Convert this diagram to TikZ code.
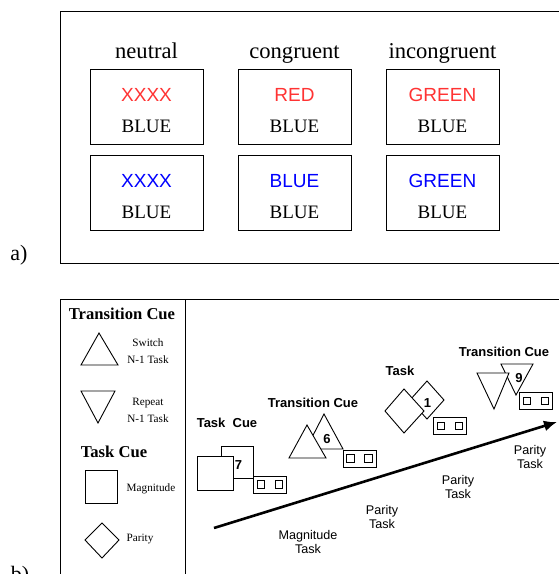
\documentclass[tikz,border=0pt]{standalone}
\usepackage{fontspec}
\setmainfont{Liberation Serif}
\setsansfont{Liberation Sans}
\usetikzlibrary{positioning}
\usetikzlibrary{arrows.meta}
\definecolor{stroopred}{RGB}{255,51,51}
\definecolor{stroopblue}{RGB}{0,0,255}

\begin{document}
\begin{tikzpicture}[x=0.5pt, y=-0.5pt, line width=0.5pt, node distance=5pt]
    \tikzstyle{stim}=[draw=black, rectangle, minimum width=56.5pt, minimum height=37.5pt, inner sep=0pt, align=center, font=\fontsize{9.5}{11}\selectfont]
    \tikzstyle{head}=[inner sep=0pt, text height=8pt, text depth=2.5pt, font=\fontsize{11.3}{13}\selectfont]
    \tikzstyle{panel}=[inner sep=0pt, font=\fontsize{11}{13}\selectfont]
    \tikzstyle{legtitle}=[inner sep=0pt, font=\bfseries\fontsize{8.3}{10}\selectfont]
    \tikzstyle{legtext}=[inner sep=0pt, align=center, font=\fontsize{5.6}{8.5}\selectfont]
    \tikzstyle{cue}=[draw=black, fill=white, line width=0.45pt]
    \tikzstyle{cuetitle}=[inner sep=0pt, font=\sffamily\bfseries\fontsize{6.5}{8}\selectfont]
    \tikzstyle{cuenum}=[inner sep=0pt, font=\sffamily\bfseries\fontsize{6.5}{8}\selectfont]
    \tikzstyle{tasktext}=[inner sep=0pt, align=center, font=\sffamily\fontsize{6.3}{7}\selectfont]
    \tikzstyle{keypad}=[draw=black, rectangle, line width=0.45pt, minimum width=16.5pt, minimum height=8.5pt, inner sep=0pt]
    \tikzstyle{keysq}=[draw=black, rectangle, line width=0.45pt, minimum size=3.6pt, inner sep=0pt]

    \useasboundingbox (0,0) rectangle (558,574);

    % a) colour-word stimuli
    \draw (560,11) -- (60,11) -- (60,263) -- (560,263);
    \node[panel] (lbla) at (19,255) {a)};

    \node[stim] (neutA) at (146.5,107) {\rule{0pt}{9.8pt}{\sffamily\color{stroopred}XXXX}\\[4.6pt]BLUE};
    \node[stim, right=17pt of neutA] (congA) {\rule{0pt}{9.8pt}{\sffamily\color{stroopred}RED}\\[4.6pt]BLUE};
    \node[stim, right=17pt of congA] (incoA) {\rule{0pt}{9.8pt}{\sffamily\color{stroopred}GREEN}\\[4.6pt]BLUE};
    \node[stim, below=5pt of neutA] (neutB) {\rule{0pt}{9.8pt}{\sffamily\color{stroopblue}XXXX}\\[4.6pt]BLUE};
    \node[stim, below=5pt of congA] (congB) {\rule{0pt}{9.8pt}{\sffamily\color{stroopblue}BLUE}\\[4.6pt]BLUE};
    \node[stim, below=5pt of incoA] (incoB) {\rule{0pt}{9.8pt}{\sffamily\color{stroopblue}GREEN}\\[4.6pt]BLUE};

    \node[head, above=2.5pt of neutA] (neutH) {neutral};
    \node[head, above=2.5pt of congA] (congH) {congruent};
    \node[head, above=2.5pt of incoA] (incoH) {incongruent};

    % b) cue legend
    \draw (560,299) -- (60,299) -- (60,580);
    \draw (185,299) -- (185,580);
    \node[panel] (lblb) at (20,576) {b)};

    \node[legtitle] (legtrans) at (122,314) {Transition Cue};
    \draw[cue] (99,333) -- (118,365) -- (81,365) -- cycle;
    \node[legtext] (legswitch) at (148,351.5) {Switch\\N-1 Task};
    \draw[cue] (81,391) -- (115,391) -- (98,423) -- cycle;
    \node[legtext] (legrepeat) at (148,410.5) {Repeat\\N-1 Task};

    \node[legtitle] (legtask) at (114,452) {Task Cue};
    \draw[cue] (85,470) rectangle (117,503);
    \node[legtext] (legmag) at (151,489) {Magnitude};
    \draw[cue] (102,523) -- (119,540) -- (102,558) -- (85,540) -- cycle;
    \node[legtext] (legpar) at (140,539) {Parity};

    % b) trial sequence
    \draw[cue] (221,446) rectangle (253,478);
    \draw[cue] (197,456) rectangle (233,490);
    \node[cuenum] (num7) at (238.5,465) {7};
    \node[cuetitle] (title1) at (227,423) {Task\ \ Cue};

    \draw[cue] (324,414) -- (343,449) -- (306,449) -- cycle;
    \draw[cue] (307,425) -- (326,458) -- (289,458) -- cycle;
    \node[cuenum] (num6) at (327,439) {6};
    \node[cuetitle] (title2) at (313,403) {Transition Cue};

    \draw[cue] (427,381) -- (444,400) -- (427,419) -- (410,400) -- cycle;
    \draw[cue] (404,389) -- (424,411) -- (404,433) -- (385,411) -- cycle;
    \node[cuenum] (num1) at (427.5,403) {1};
    \node[cuetitle] (title3) at (400,371) {Task};

    \draw[cue] (501,364) -- (533,364) -- (516,395) -- cycle;
    \draw[cue] (477,373) -- (509,373) -- (494,409) -- cycle;
    \node[cuenum] (num9) at (519,378) {9};
    \node[cuetitle] (title4) at (504,352) {Transition Cue};

    \foreach \p/\px/\py in {a/270/484.5, b/359.5/458.5, c/450/426, d/536/401} {
        \node[keypad] (pad\p) at (\px,\py) {};
        \node[keysq] (pad\p l) at ([xshift=-4.5pt]pad\p.center) {};
        \node[keysq] (pad\p r) at ([xshift=4.5pt]pad\p.center) {};
    }

    \coordinate (tstart) at (214,528);
    \coordinate (tend) at (557,422);
    \draw[-{Latex[length=6.5pt,width=5.5pt]}, line width=1.3pt] (tstart) -- (tend);

    \node[tasktext] (task1) at (308,541.5) {Magnitude\\Task};
    \node[tasktext] (task2) at (382,516.5) {Parity\\Task};
    \node[tasktext] (task3) at (458,487) {Parity\\Task};
    \node[tasktext] (task4) at (530,456.5) {Parity\\Task};
\end{tikzpicture}
\end{document}
